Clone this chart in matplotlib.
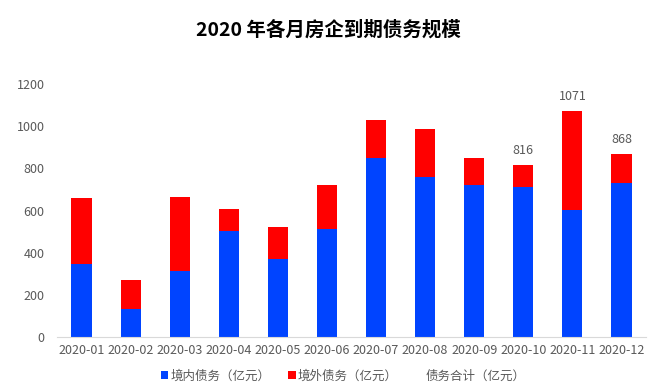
import matplotlib.pyplot as plt

plt.rcParams['font.family'] = ['Noto Sans CJK SC', 'DejaVu Sans']

# Datos
months = ['2020-01', '2020-02', '2020-03', '2020-04', '2020-05', '2020-06',
          '2020-07', '2020-08', '2020-09', '2020-10', '2020-11', '2020-12']
domestic = [344, 133, 314, 504, 370, 512, 849, 760, 722, 713, 604, 730]
overseas = [316, 139, 350, 104, 153, 209, 181, 228, 127, 103, 467, 138]
total = [660, 272, 664, 608, 523, 721, 1030, 988, 849, 816, 1071, 868]
labeled_months = ['2020-10', '2020-11', '2020-12']

fig = plt.figure(figsize=(6.57, 3.88), dpi=100)
ax = fig.add_axes([57 / 657, 1 - 337 / 388, 589 / 657, 253 / 388])

x = range(len(months))
b1 = ax.bar(x, domestic, width=0.41, color='#0044ff', label='境内债务（亿元）')
b2 = ax.bar(x, overseas, width=0.41, bottom=domestic, color='#ff0000', label='境外债务（亿元）')
l1, = ax.plot(x, total, linestyle='none', label='债务合计（亿元）')

# Etiquetas de los totales
for i, m in enumerate(months):
    if m in labeled_months:
        ax.annotate(str(total[i]), (i, total[i]), xytext=(0, 6), textcoords='offset points',
                    ha='center', va='bottom', fontsize=9, color='#595959')

ax.set_xlim(-0.5, len(months) - 0.5)
ax.set_ylim(0, 1200)
ax.set_yticks(range(0, 1201, 200))
ax.set_xticks(list(x))
ax.set_xticklabels(months)
ax.tick_params(axis='both', length=0, labelsize=9, colors='#595959')
ax.tick_params(axis='y', pad=9)
ax.tick_params(axis='x', pad=5)

for s in ['top', 'right', 'left']:
    ax.spines[s].set_visible(False)
ax.spines['bottom'].set_color('#d9d9d9')

fig.text(0.5, 1 - 30 / 388, '2020 年各月房企到期债务规模', ha='center', va='center',
         fontsize=14, fontweight='bold', color='black')

fig.legend([b1, b2, l1], [b1.get_label(), b2.get_label(), l1.get_label()],
           loc='center', bbox_to_anchor=(343 / 657, 1 - 376 / 388), ncol=3,
           frameon=False, fontsize=9, labelcolor='#595959', handlelength=0.6, handleheight=0.6,
           handletextpad=0.2, columnspacing=1.4)

plt.savefig('out.png', dpi=100)
